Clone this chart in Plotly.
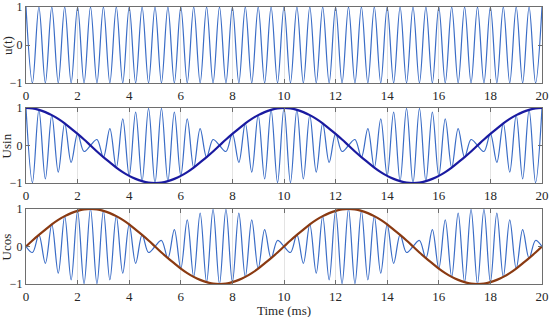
import plotly.graph_objects as go

# sample times (ms): carrier extrema, every 0.25 ms
time_ms = [
    0, 0.25, 0.5, 0.75, 1, 1.25, 1.5, 1.75, 2, 2.25, 2.5, 2.75, 3, 3.25, 3.5, 3.75,
    4, 4.25, 4.5, 4.75, 5, 5.25, 5.5, 5.75, 6, 6.25, 6.5, 6.75, 7, 7.25, 7.5, 7.75,
    8, 8.25, 8.5, 8.75, 9, 9.25, 9.5, 9.75, 10, 10.25, 10.5, 10.75, 11, 11.25, 11.5,
    11.75, 12, 12.25, 12.5, 12.75, 13, 13.25, 13.5, 13.75, 14, 14.25, 14.5, 14.75,
    15, 15.25, 15.5, 15.75, 16, 16.25, 16.5, 16.75, 17, 17.25, 17.5, 17.75, 18,
    18.25, 18.5, 18.75, 19, 19.25, 19.5, 19.75, 20,
]

# carrier u(t)
u_t = [
    1, -1, 1, -1, 1, -1, 1, -1, 1, -1, 1, -1, 1, -1, 1, -1, 1, -1, 1, -1, 1,
    -1, 1, -1, 1, -1, 1, -1, 1, -1, 1, -1, 1, -1, 1, -1, 1, -1, 1, -1, 1,
    -1, 1, -1, 1, -1, 1, -1, 1, -1, 1, -1, 1, -1, 1, -1, 1, -1, 1, -1, 1,
    -1, 1, -1, 1, -1, 1, -1, 1, -1, 1, -1, 1, -1, 1, -1, 1, -1, 1, -1, 1,
]

# thick envelope, middle panel
env_usin = [
    1.00, 0.99, 0.95, 0.89, 0.81, 0.71, 0.59, 0.45, 0.31, 0.16, 0.00,
    -0.16, -0.31, -0.45, -0.59, -0.71, -0.81, -0.89, -0.95, -0.99, -1.00,
    -0.99, -0.95, -0.89, -0.81, -0.71, -0.59, -0.45, -0.31, -0.16, 0.00,
    0.16, 0.31, 0.45, 0.59, 0.71, 0.81, 0.89, 0.95, 0.99, 1.00,
    0.99, 0.95, 0.89, 0.81, 0.71, 0.59, 0.45, 0.31, 0.16, 0.00,
    -0.16, -0.31, -0.45, -0.59, -0.71, -0.81, -0.89, -0.95, -0.99, -1.00,
    -0.99, -0.95, -0.89, -0.81, -0.71, -0.59, -0.45, -0.31, -0.16, 0.00,
    0.16, 0.31, 0.45, 0.59, 0.71, 0.81, 0.89, 0.95, 0.99, 1.00,
]

# modulated signal, middle panel
usin = [
    1.00, -0.99, 0.95, -0.89, 0.81, -0.71, 0.59, -0.45, 0.31, -0.16, 0.00,
    0.16, -0.31, 0.45, -0.59, 0.71, -0.81, 0.89, -0.95, 0.99, -1.00,
    0.99, -0.95, 0.89, -0.81, 0.71, -0.59, 0.45, -0.31, 0.16, 0.00,
    -0.16, 0.31, -0.45, 0.59, -0.71, 0.81, -0.89, 0.95, -0.99, 1.00,
    -0.99, 0.95, -0.89, 0.81, -0.71, 0.59, -0.45, 0.31, -0.16, 0.00,
    0.16, -0.31, 0.45, -0.59, 0.71, -0.81, 0.89, -0.95, 0.99, -1.00,
    0.99, -0.95, 0.89, -0.81, 0.71, -0.59, 0.45, -0.31, 0.16, 0.00,
    -0.16, 0.31, -0.45, 0.59, -0.71, 0.81, -0.89, 0.95, -0.99, 1.00,
]

# thick envelope, bottom panel
env_ucos = [
    0.00, 0.16, 0.31, 0.45, 0.59, 0.71, 0.81, 0.89, 0.95, 0.99, 1.00,
    0.99, 0.95, 0.89, 0.81, 0.71, 0.59, 0.45, 0.31, 0.16, 0.00,
    -0.16, -0.31, -0.45, -0.59, -0.71, -0.81, -0.89, -0.95, -0.99, -1.00,
    -0.99, -0.95, -0.89, -0.81, -0.71, -0.59, -0.45, -0.31, -0.16, 0.00,
    0.16, 0.31, 0.45, 0.59, 0.71, 0.81, 0.89, 0.95, 0.99, 1.00,
    0.99, 0.95, 0.89, 0.81, 0.71, 0.59, 0.45, 0.31, 0.16, 0.00,
    -0.16, -0.31, -0.45, -0.59, -0.71, -0.81, -0.89, -0.95, -0.99, -1.00,
    -0.99, -0.95, -0.89, -0.81, -0.71, -0.59, -0.45, -0.31, -0.16, 0.00,
]

# modulated signal, bottom panel
ucos = [
    0.00, -0.16, 0.31, -0.45, 0.59, -0.71, 0.81, -0.89, 0.95, -0.99, 1.00,
    -0.99, 0.95, -0.89, 0.81, -0.71, 0.59, -0.45, 0.31, -0.16, 0.00,
    0.16, -0.31, 0.45, -0.59, 0.71, -0.81, 0.89, -0.95, 0.99, -1.00,
    0.99, -0.95, 0.89, -0.81, 0.71, -0.59, 0.45, -0.31, 0.16, 0.00,
    -0.16, 0.31, -0.45, 0.59, -0.71, 0.81, -0.89, 0.95, -0.99, 1.00,
    -0.99, 0.95, -0.89, 0.81, -0.71, 0.59, -0.45, 0.31, -0.16, 0.00,
    0.16, -0.31, 0.45, -0.59, 0.71, -0.81, 0.89, -0.95, 0.99, -1.00,
    0.99, -0.95, 0.89, -0.81, 0.71, -0.59, 0.45, -0.31, 0.16, 0.00,
]

x_ticks = [0, 2, 4, 6, 8, 10, 12, 14, 16, 18, 20]
y_ticks = [-1, 0, 1]

thin_blue = '#3a6cc6'
font = 'Liberation Serif'
txt = '#262626'

fig = go.Figure()

# top: carrier
fig.add_trace(go.Scatter(x=time_ms, y=u_t, mode='lines', line=dict(color=thin_blue, width=1.2, shape='spline'),
                         xaxis='x', yaxis='y'))
# middle
fig.add_trace(go.Scatter(x=time_ms, y=usin, mode='lines', line=dict(color=thin_blue, width=1.2, shape='spline'),
                         xaxis='x2', yaxis='y2'))
fig.add_trace(go.Scatter(x=time_ms, y=env_usin, mode='lines', line=dict(color='#1a1aa0', width=2.2, shape='spline'),
                         xaxis='x2', yaxis='y2'))
# bottom
fig.add_trace(go.Scatter(x=time_ms, y=ucos, mode='lines', line=dict(color=thin_blue, width=1.2, shape='spline'),
                         xaxis='x3', yaxis='y3'))
fig.add_trace(go.Scatter(x=time_ms, y=env_ucos, mode='lines', line=dict(color='#8a3a12', width=2.2, shape='spline'),
                         xaxis='x3', yaxis='y3'))

ax_common = dict(showline=True, mirror='ticks', linecolor='#6e6e6e', linewidth=1,
                 ticks='inside', ticklen=4, tickcolor='#6e6e6e', automargin=False,
                 zeroline=False)

xax = dict(ax_common, range=[0, 20], tickvals=x_ticks, showgrid=True, gridcolor='#e3e3e3',
           tickfont=dict(family=font, size=13, color=txt))
yax = dict(ax_common, range=[-1, 1], tickvals=y_ticks, showgrid=False,
           tickfont=dict(family=font, size=12, color=txt))

domains = [[0.7256, 1.0], [0.3646, 0.6354], [0.0, 0.2708]]
titles = ['u(t)', 'Usin', 'Ucos']

layout = dict(
    width=550, height=317,
    margin=dict(l=26, r=8, t=7, b=33),
    paper_bgcolor='white', plot_bgcolor='white',
    showlegend=False,
)
annotations = []
for i in range(3):
    sx = '' if i == 0 else str(i + 1)
    layout['xaxis' + sx] = dict(xax, anchor='y' + sx)
    layout['yaxis' + sx] = dict(yax, anchor='x' + sx, domain=domains[i])
    annotations.append(dict(text=titles[i], xref='paper', yref='paper', x=-0.037,
                            y=sum(domains[i]) / 2, textangle=-90, showarrow=False,
                            xanchor='center', yanchor='middle',
                            font=dict(family=font, size=13, color=txt)))
annotations.append(dict(text='Time (ms)', xref='paper', yref='paper', x=0.5, y=-0.095,
                        showarrow=False, xanchor='center', yanchor='middle',
                        font=dict(family=font, size=13, color=txt)))
layout['annotations'] = annotations

fig.update_layout(**layout)

# page body has a default margin; drop it so the figure sits at the window origin
fig.write_html("out.html", config={'displayModeBar': False},
               post_script="document.body.style.margin='0';")
